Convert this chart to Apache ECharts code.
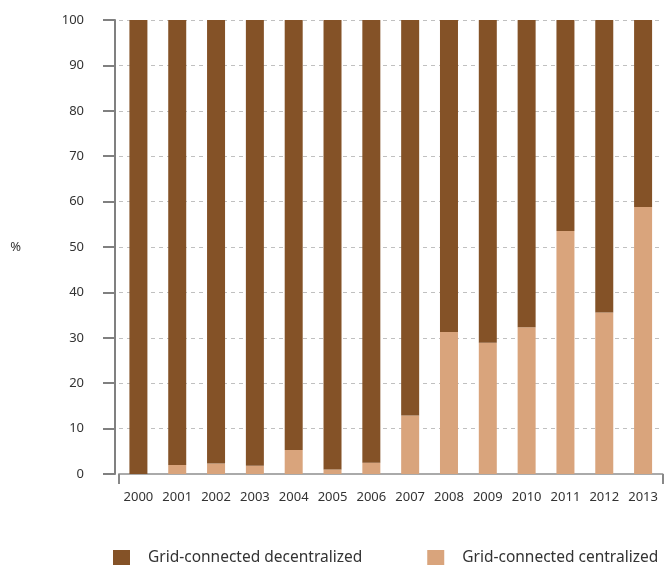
<!DOCTYPE html>
<html>
<head>
<meta charset="utf-8">
<script src="https://cdn.jsdelivr.net/npm/echarts@6/dist/echarts.min.js"></script>
<style>
html,body{margin:0;padding:0;background:#fff;}
#chart{width:665px;height:565px;}
</style>
</head>
<body>
<div id="chart"></div>
<script>
var years = ['2000','2001','2002','2003','2004','2005','2006','2007','2008','2009','2010','2011','2012','2013'];
var centralized = [0, 2.0, 2.3, 1.8, 5.3, 1.0, 2.5, 12.9, 31.3, 28.9, 32.3, 53.5, 35.6, 58.8];
var decentralized = [100, 98.0, 97.7, 98.2, 94.7, 99.0, 97.5, 87.1, 68.7, 71.1, 67.7, 46.5, 64.4, 41.2];
var seriesNames = ['Grid-connected decentralized', 'Grid-connected centralized'];
var yTicks = [0, 10, 20, 30, 40, 50, 60, 70, 80, 90, 100];

var FONT = '"Noto Sans", "Open Sans", sans-serif';
var chart = echarts.init(document.getElementById('chart'), null, {renderer: 'canvas'});
chart.setOption({
  animation: false,
  backgroundColor: '#fff',
  textStyle: {fontFamily: FONT},
  grid: {left: 119, right: 2.5, top: 20, bottom: 91, containLabel: false},
  legend: {
    data: seriesNames,
    left: 113, top: 550, padding: 0,
    itemWidth: 17, itemHeight: 16, itemGap: 65,
    icon: 'rect',
    textStyle: {fontSize: 15.5, color: '#333', fontFamily: FONT, padding: [0, 0, 0, 13]}
  },
  xAxis: {
    type: 'category',
    data: years,
    axisLine: {show: true, lineStyle: {color: '#aaaaaa', width: 2}},
    axisTick: {show: true, length: 10, interval: function (i) { return i === 0; }, lineStyle: {color: '#888', width: 2}},
    axisLabel: {margin: 17, fontSize: 13, color: '#333', fontFamily: FONT, interval: 0}
  },
  yAxis: {
    type: 'value',
    min: yTicks[0], max: yTicks[yTicks.length - 1], interval: 10,
    offset: 4,
    name: '%',
    nameLocation: 'middle',
    nameRotate: 0,
    nameGap: 94,
    nameTextStyle: {fontSize: 13, color: '#333', fontFamily: FONT},
    axisLine: {show: true, lineStyle: {color: '#808080', width: 2}},
    axisTick: {show: true, length: 12, lineStyle: {color: '#808080', width: 2}},
    axisLabel: {margin: 31, fontSize: 13, color: '#333', fontFamily: FONT},
    splitLine: {show: true, lineStyle: {color: '#c0c0c0', type: [4, 4], width: 1}}
  },
  series: [
    {
      name: seriesNames[1], type: 'bar', stack: 'total', barWidth: 18,
      itemStyle: {color: '#D9A47C'},
      data: centralized
    },
    {
      name: seriesNames[0], type: 'bar', stack: 'total', barWidth: 18,
      itemStyle: {color: '#845227'},
      data: decentralized
    }
  ]
});
</script>
</body>
</html>
